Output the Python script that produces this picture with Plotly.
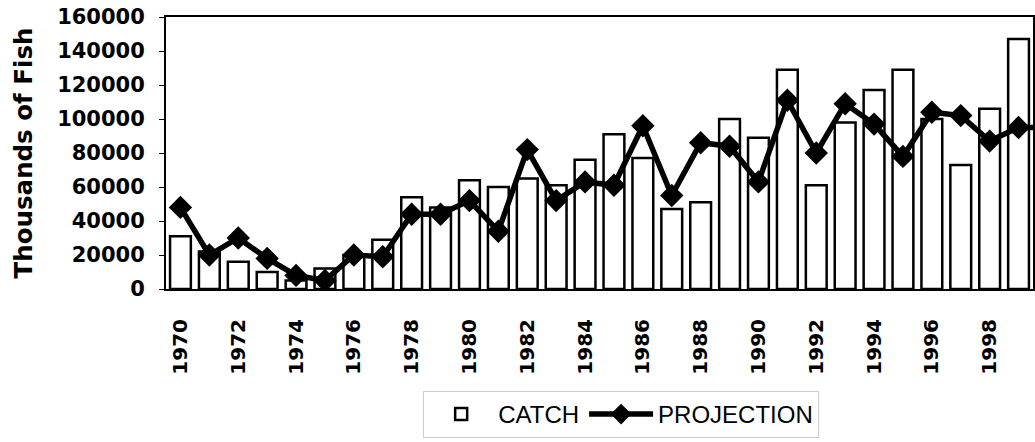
import plotly.graph_objects as go

years = list(range(1970, 2001))
catch = [31000, 22000, 16000, 10000, 5000, 12000, 20000, 29000, 54000, 48000,
         64000, 60000, 65000, 61000, 76000, 91000, 77000, 47000, 51000, 100000,
         89000, 129000, 61000, 98000, 117000, 129000, 100000, 73000, 106000, 147000,
         None]
projection = [48000, 20000, 30000, 18000, 8000, 5000, 20000, 19000, 44000, 44000,
              52000, 34000, 82000, 52000, 63000, 61000, 96000, 55000, 86000, 84000,
              63000, 111000, 80000, 109000, 97000, 78000, 104000, 102000, 87000, 95000,
              95000]
tick_years = list(range(1970, 2000, 2))

BOLD = "DejaVu Sans, Liberation Sans, Arial, sans-serif"
LEG = "Liberation Sans, Arial, sans-serif"

fig = go.Figure()
fig.add_trace(go.Bar(
    x=years, y=catch, name="CATCH",
    marker=dict(color="white", line=dict(color="black", width=2.5)),
    width=0.72,
))
fig.add_trace(go.Scatter(
    x=years, y=projection, name="PROJECTION", mode="lines+markers",
    line=dict(color="black", width=5.5),
    marker=dict(symbol="diamond", size=18, color="black"),
))

fig.update_layout(
    width=1035, height=442,
    margin=dict(l=166, r=0, t=17, b=153),
    paper_bgcolor="white", plot_bgcolor="white",
    showlegend=True,
    legend=dict(orientation="h", x=0.525, xanchor="center", y=-0.375, yanchor="top",
                font=dict(family=LEG, size=24, color="black"),
                bgcolor="rgba(0,0,0,0)", bordercolor="#cccccc", borderwidth=1,
                itemwidth=64, tracegroupgap=0),
    font=dict(family=LEG, color="black"),
)
fig.update_xaxes(
    range=[1969.5, 1999.5], tickvals=tick_years, ticktext=[str(y) for y in tick_years],
    tickangle=-90, tickfont=dict(size=20, family=BOLD, weight="bold"),
    showline=True, linecolor="black", linewidth=2, mirror=True,
    ticks="outside", ticklen=6, tickcolor="rgba(0,0,0,0)", ticklabelstandoff=14,
    showgrid=False, zeroline=False,
)
fig.update_yaxes(
    range=[0, 160000], dtick=20000, tickformat="d",
    tickfont=dict(size=21, family=BOLD, weight="bold"), ticklabeloverflow="allow",
    title=dict(text="Thousands of Fish", font=dict(size=24.5, family=BOLD, weight="bold"), standoff=18),
    showline=True, linecolor="black", linewidth=2, mirror=True,
    ticks="outside", ticklen=5, tickcolor="black", ticklabelstandoff=10,
    showgrid=False, zeroline=False,
)

fig.write_html("out.html", config={"displayModeBar": False},
               post_script="document.body.style.margin='0';document.body.style.overflow='hidden';")
